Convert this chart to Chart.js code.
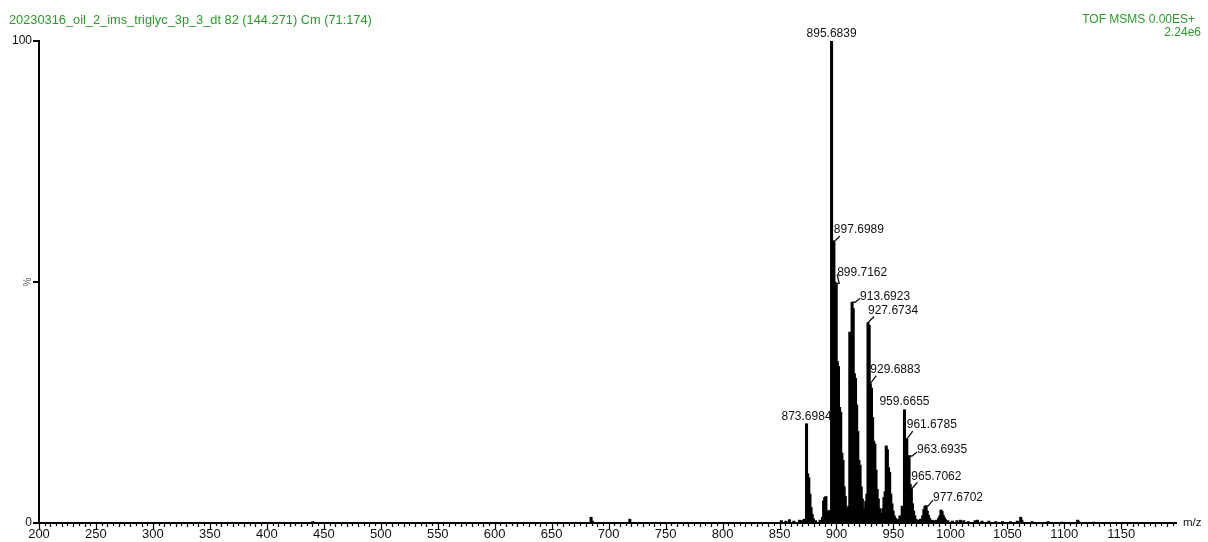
<!DOCTYPE html>
<html>
<head>
<meta charset="utf-8">
<title>MS/MS spectrum</title>
<script src="https://cdn.jsdelivr.net/npm/chart.js@4.4.1/dist/chart.umd.min.js"></script>
<style>
    html, body { margin: 0; padding: 0; background: #fff; }
    #spectrum { display: block; }
</style>
</head>
<body>
<canvas id="spectrum" width="1208" height="542"></canvas>
<script>
// Header lines
const scanTitle = '20230316_oil_2_ims_triglyc_3p_3_dt 82 (144.271) Cm (71:174)';
const acqMode = 'TOF MSMS 0.00ES+';
const baseIntensity = '2.24e6';

// Centroid list: m/z and relative intensity (%)
const mzValues = [
    440.3, 684.6, 685.6, 718.6, 851.6, 855.6, 858.7, 862.6, 867.6, 869.6, 871.6,
    873.6984, 874.70, 875.70, 876.70, 877.70, 878.70, 879.70, 881.6, 885.6, 887.7,
    888.7, 889.7, 890.7, 891.7, 892.7, 893.7, 894.7,
    895.6839, 896.69, 897.6989, 898.70, 899.7162, 900.72, 901.72, 902.72, 903.72, 904.72,
    905.72, 906.72, 907.72, 908.72, 909.7, 910.7,
    911.68, 912.69, 913.6923, 914.69, 915.70, 916.70, 917.70, 918.70, 919.70, 920.70,
    921.70, 922.70, 923.7, 924.7,
    925.67, 926.67, 927.6734, 928.68, 929.6883, 930.69, 931.69, 932.69, 933.69, 934.69,
    935.69, 936.69, 937.7, 938.7, 939.7, 940.7,
    941.66, 942.66, 943.67, 944.67, 945.67, 946.67, 947.67, 948.67, 949.7, 950.7, 951.7,
    953.7, 955.7, 957.66, 958.66,
    959.6655, 960.67, 961.6785, 962.68, 963.6935, 964.70, 965.7062, 966.71, 967.71, 968.7,
    969.7, 971.7, 973.7,
    975.67, 976.67, 977.6702, 978.67, 979.67, 980.67, 981.67, 983.7, 985.7, 987.7,
    989.7, 990.7, 991.7, 992.7, 993.7, 994.7, 995.7, 997.7,
    1001.7, 1005.7, 1008.7, 1011.7, 1015.7, 1021.7, 1023.7, 1027.7, 1033.7, 1039.7,
    1045.7, 1052.7, 1058.7, 1061.7, 1062.7, 1071.7, 1085.7, 1097.7, 1111.7, 1112.7, 1125.7
];
const intensities = [
    0.3, 1.2, 0.4, 0.8, 0.5, 0.4, 0.7, 0.4, 0.6, 0.5, 0.8,
    20.6, 10.2, 9.4, 6.0, 3.2, 1.8, 0.9, 0.5, 0.6, 1.2,
    4.6, 5.3, 5.5, 2.5, 1.8, 2.6, 1.6,
    100, 58.6, 58.3, 50, 49.7, 33.5, 32.5, 24, 23, 14.5,
    13, 7.5, 5.5, 3, 2, 3.5,
    39.6, 39, 45.8, 44.5, 31, 30, 24.5, 19, 13, 12,
    7.5, 5, 3, 2,
    4.5, 6, 41.6, 41, 28.9, 28, 21.9, 17, 16.4, 11,
    7, 5, 3, 2, 1.5, 3,
    5.3, 6.5, 16, 15.2, 11.5, 10.5, 6, 4, 2.5, 1.5, 1,
    0.8, 1.5, 3.5, 2.5,
    23.5, 17.5, 17.4, 14, 13.9, 8, 7, 4, 2.5, 1.5,
    0.8, 0.6, 0.8,
    1.5, 2.8, 3.5, 3.6, 2.5, 1.6, 1, 0.6, 0.5, 0.6,
    1, 1.5, 2.7, 2.4, 1.6, 1.1, 0.7, 0.5,
    0.4, 0.5, 0.6, 0.5, 0.3, 0.5, 0.6, 0.4, 0.4, 0.3,
    0.3, 0.3, 0.4, 1.2, 0.6, 0.3, 0.3, 0.2, 0.6, 0.3, 0.2
];

// Peaks that get an m/z annotation
const labelledPeaks = [
    895.6839, 873.6984, 959.6655, 897.6989, 899.7162, 913.6923,
    927.6734, 929.6883, 961.6785, 963.6935, 965.7062, 977.6702
];

// Axis range and tick labels
const mzMin = 200;
const mzMax = 1198;
const mzTickLabels = [200, 250, 300, 350, 400, 450, 500, 550, 600, 650, 700, 750,
    800, 850, 900, 950, 1000, 1050, 1100, 1150];
const pctTicks = [0, 50, 100];
const pctTickLabels = [0, 100];

const GREEN = '#2a9a2a';
const FONT = '"Liberation Sans", Arial, sans-serif';

// where each annotation sits relative to its peak top (px)
const labelPlacement = [
    { center: true, dy: -7 },
    { center: true, dy: -7 },
    { center: true, dy: -8 },
    { dx: 0, dy: -12 },
    { dx: 1, dy: -11 },
    { dx: 8, dy: -6 },
    { dx: 0, dy: -12 },
    { dx: 0, dy: -14 },
    { dx: 0, dy: -14 },
    { dx: 8, dy: -6 },
    { dx: 0, dy: -13 },
    { dx: 8, dy: -8 }
];

// Peak annotations with small leader lines
const peakLabelPlugin = {
    id: 'peakLabels',
    afterDatasetsDraw(chart) {
        const ctx = chart.ctx;
        const xs = chart.scales.x, ys = chart.scales.y;
        ctx.save();
        ctx.font = '12px ' + FONT;
        ctx.fillStyle = '#111';
        ctx.strokeStyle = '#111';
        ctx.lineWidth = 1.3;
        ctx.textBaseline = 'middle';
        labelledPeaks.forEach((mz, i) => {
            const idx = mzValues.indexOf(mz);
            if (idx < 0) return;
            const px = xs.getPixelForValue(mz);
            const py = ys.getPixelForValue(intensities[idx]);
            const p = labelPlacement[i];
            const text = mz.toFixed(4);
            if (p.center) {
                ctx.textAlign = 'center';
                ctx.fillText(text, px, py + p.dy);
                return;
            }
            const cy = py + p.dy;
            ctx.textAlign = 'left';
            ctx.fillText(text, px + p.dx, cy);
            ctx.beginPath();
            ctx.moveTo(px, py);
            if (p.dx > 0) {
                ctx.lineTo(px + 3, py);
                ctx.lineTo(px + p.dx, cy + 2);
            } else {
                ctx.lineTo(px + 6, cy + 6);
            }
            ctx.stroke();
        });
        ctx.restore();
    }
};

// Tick marks, header text and axis captions
const framePlugin = {
    id: 'frame',
    afterDraw(chart) {
        const ctx = chart.ctx;
        const xs = chart.scales.x, ys = chart.scales.y;
        const area = chart.chartArea;
        ctx.save();
        ctx.strokeStyle = '#000';

        // x ticks: every 5 units, longer at labelled values
        ctx.lineWidth = 1.2;
        for (let v = mzMin; v <= mzMax; v += 5) {
            const x = Math.round(xs.getPixelForValue(v)) + 0.5;
            const len = v % 50 === 0 ? 6 : (v % 10 === 0 ? 4 : 3);
            ctx.beginPath();
            ctx.moveTo(x, area.bottom);
            ctx.lineTo(x, area.bottom + len);
            ctx.stroke();
        }

        // y ticks at 0, 50 and 100
        ctx.lineWidth = 2;
        pctTicks.forEach(v => {
            const y = ys.getPixelForValue(v);
            ctx.beginPath();
            ctx.moveTo(area.left - 6, y);
            ctx.lineTo(area.left, y);
            ctx.stroke();
        });

        // header
        ctx.fillStyle = GREEN;
        ctx.textBaseline = 'middle';
        ctx.textAlign = 'left';
        ctx.font = '12.8px ' + FONT;
        ctx.fillText(scanTitle, 9, 20);
        ctx.font = '12px ' + FONT;
        ctx.textAlign = 'right';
        ctx.fillText(acqMode, 1195, 20);
        ctx.fillText(baseIntensity, 1201, 33);

        // axis captions
        ctx.fillStyle = '#111';
        ctx.font = '11.5px ' + FONT;
        ctx.textAlign = 'left';
        ctx.fillText('m/z', area.right + 7, area.bottom);

        ctx.fillStyle = '#666';
        ctx.font = '10px ' + FONT;
        ctx.translate(28, ys.getPixelForValue(50));
        ctx.rotate(-Math.PI / 2);
        ctx.textAlign = 'center';
        ctx.fillText('%', 0, 0);
        ctx.restore();
    }
};

new Chart(document.getElementById('spectrum'), {
    type: 'bar',
    data: {
        datasets: [{
            data: mzValues.map((mz, i) => ({ x: mz, y: intensities[i] })),
            backgroundColor: '#000',
            borderWidth: 0,
            barThickness: 2.4,
            grouped: false
        }]
    },
    options: {
        responsive: false,
        animation: false,
        events: [],
        layout: { padding: { top: 41, right: 32, left: 0, bottom: 0 } },
        plugins: {
            legend: { display: false },
            tooltip: { enabled: false }
        },
        scales: {
            x: {
                type: 'linear',
                min: mzMin,
                max: mzMax,
                offset: false,
                grid: { display: false, drawTicks: false },
                border: { display: true, color: '#000', width: 2 },
                afterBuildTicks: scale => {
                    scale.ticks = mzTickLabels.map(v => ({ value: v }));
                },
                ticks: {
                    autoSkip: false,
                    maxRotation: 0,
                    padding: 4,
                    color: '#111',
                    font: { family: FONT, size: 13 },
                    callback: v => String(v)
                },
                afterFit: scale => { scale.height = 19; }
            },
            y: {
                min: 0,
                max: 100,
                grid: { display: false, drawTicks: false },
                border: { display: true, color: '#000', width: 2 },
                afterBuildTicks: scale => {
                    scale.ticks = pctTicks.map(v => ({ value: v }));
                },
                ticks: {
                    padding: 7,
                    color: '#111',
                    font: { family: FONT, size: 12 },
                    callback: v => pctTickLabels.includes(v) ? String(v) : ''
                },
                afterFit: scale => { scale.width = 39; }
            }
        }
    },
    plugins: [peakLabelPlugin, framePlugin]
});
</script>
</body>
</html>
